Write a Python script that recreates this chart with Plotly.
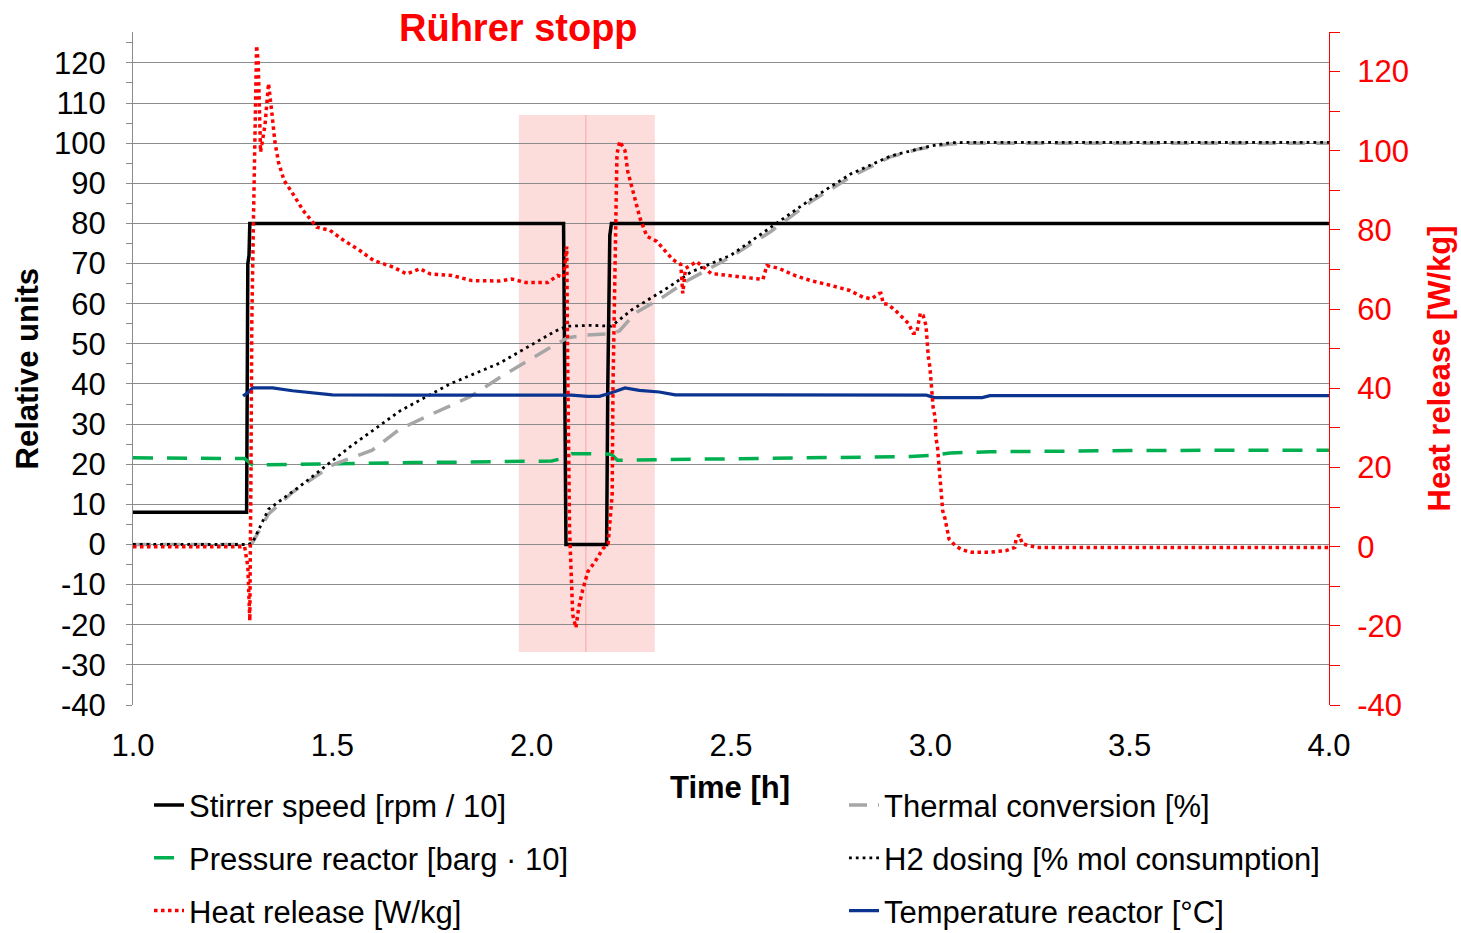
import plotly.graph_objects as go

# ---------------- data ----------------
stir_t = [1.0, 1.285, 1.288, 1.291, 1.293, 2.080, 2.083, 2.086, 2.188, 2.191, 2.196, 2.200, 4.0]
stir_v = [8, 8, 70, 72, 80, 80, 40, 0, 0, 40, 77, 80, 80]

pres_t = [1.0, 1.10, 1.20, 1.28, 1.30, 1.40, 1.50, 1.60, 1.70, 1.80, 1.90, 2.00, 2.05, 2.08, 2.10,
          2.15, 2.20, 2.215, 2.40, 2.60, 2.80, 2.95, 3.00, 3.05, 3.15, 3.30, 3.50, 3.80, 4.0]
pres_v = [21.6, 21.5, 21.6, 21.4, 19.8, 20.0, 20.2, 20.3, 20.4, 20.5, 20.6, 20.6, 20.8, 21.5, 22.6,
          22.6, 22.5, 21.0, 21.2, 21.5, 21.8, 21.9, 22.2, 22.8, 23.1, 23.3, 23.4, 23.5, 23.5]

temp_t = [1.276, 1.29, 1.30, 1.35, 1.40, 1.45, 1.50, 1.70, 2.00, 2.10, 2.14, 2.17, 2.20, 2.234,
          2.27, 2.32, 2.36, 2.60, 2.99, 3.01, 3.13, 3.15, 3.50, 4.0]
temp_v = [37.0, 38.0, 39.0, 39.0, 38.3, 37.8, 37.3, 37.2, 37.2, 37.2, 36.9, 36.9, 37.8, 39.0,
          38.4, 38.0, 37.3, 37.2, 37.2, 36.6, 36.6, 37.1, 37.1, 37.1]

therm_t = [1.0, 1.29, 1.30, 1.34, 1.40, 1.50, 1.60, 1.67, 1.75, 1.845, 1.92, 1.98, 2.04, 2.09, 2.14,
           2.20, 2.22, 2.26, 2.33, 2.39, 2.50, 2.60, 2.70, 2.80, 2.90, 2.97, 3.00, 3.05, 3.10, 4.0]
therm_v = [0, 0, 0.5, 7.6, 13.0, 19.8, 23.5, 28.8, 32.5, 36.8, 41.6, 45.2, 48.7, 51.5, 52.2,
           52.5, 53.2, 57.7, 61.7, 65.7, 71.7, 78.0, 85.4, 91.6, 96.6, 98.5, 99.1, 99.8, 100, 100]

h2_t = [1.0, 1.29, 1.30, 1.34, 1.42, 1.50, 1.544, 1.67, 1.795, 1.92, 2.00, 2.06, 2.09, 2.15, 2.20,
        2.25, 2.34, 2.40, 2.50, 2.60, 2.70, 2.80, 2.90, 3.00, 3.05, 3.10, 3.50, 4.0]
h2_v = [0, 0, 0.5, 8.8, 14.6, 21.0, 24.3, 33.3, 40.0, 45.2, 49.7, 53.2, 54.4, 54.6, 54.4,
        58.4, 63.9, 67.9, 72.1, 79.0, 86.0, 92.3, 96.8, 99.3, 100.1, 100.2, 100.2, 100.2]

heat_t = [1.0, 1.28, 1.288, 1.293, 1.296, 1.298, 1.302, 1.304, 1.306, 1.310, 1.314, 1.317, 1.319,
          1.320, 1.331, 1.340, 1.348, 1.356, 1.365, 1.379, 1.398, 1.427, 1.461, 1.494, 1.528, 1.569,
          1.603, 1.653, 1.686, 1.720, 1.745, 1.80, 1.85, 1.92, 1.95, 1.985, 2.04, 2.065, 2.08, 2.088,
          2.090, 2.092, 2.095, 2.100, 2.103, 2.111, 2.118, 2.128, 2.141, 2.159, 2.179, 2.192, 2.202,
          2.204, 2.209, 2.211, 2.214, 2.221, 2.234, 2.241, 2.254, 2.272, 2.289, 2.314, 2.334, 2.354,
          2.374, 2.379, 2.386, 2.414, 2.45, 2.50, 2.55, 2.58, 2.59, 2.62, 2.66, 2.70, 2.75, 2.798,
          2.831, 2.853, 2.870, 2.876, 2.882, 2.894, 2.912, 2.928, 2.945, 2.957, 2.966, 2.970, 2.975,
          2.982, 2.989, 2.991, 2.993, 2.995, 2.999, 3.001, 3.003, 3.007, 3.012, 3.014, 3.018, 3.020,
          3.022, 3.024, 3.026, 3.029, 3.031, 3.037, 3.041, 3.047, 3.062, 3.079, 3.104, 3.15, 3.19,
          3.212, 3.215, 3.223, 3.231, 3.25, 3.267, 3.5, 4.0]
heat_v = [0, 0, -5, -18.7, 20, 56.4, 81.6, 96.8, 111, 126.6, 122.4, 113.6, 105.2,
          99.7, 106.4, 117, 109.8, 102.2, 97.1, 92.5, 89.6, 84.9, 80.7, 79.9, 77.4, 74.8,
          72.3, 70.6, 68.9, 70.2, 68.9, 68.5, 67.2, 67.1, 67.6, 66.7, 66.7, 68.5, 68.0, 75.8,
          49.5, 22.5, 4.4, -9.1, -17.2, -20.5, -15.4, -10.9, -6.3, -3.8, -0.5, 0.8, 13.4,
          40.4, 67.6, 85.7, 99.2, 102.4, 100.1, 94.8, 89.7, 82.9, 78.4, 77.1, 74.8, 72.5,
          71.3, 64.0, 70.3, 72.0, 69.0, 68.5, 68.0, 67.5, 71.0, 70.3, 68.5, 67.2, 66.0, 64.7,
          63.0, 62.6, 63.9, 64.0, 61.4, 61.2, 59.7, 58.0, 56.4, 53.9, 53.9, 56.4, 59.0,
          58.4, 55.9, 53.3, 50.4, 47.9, 45.3, 42.8, 40.3, 35.2, 32.7, 27.6, 25.1, 22.6,
          19.6, 17.1, 14.6, 12.1, 9.1, 7.0, 4.5, 1.9, 0.3, -0.8, -1.4, -1.4, -1.0,
          -0.2, 1.9, 3.0, 0.7, 0.3, -0.2, -0.2, -0.2]

left_ticks = list(range(-40, 121, 10))
right_ticks = list(range(-40, 121, 20))
x_ticks = [1.0, 1.5, 2.0, 2.5, 3.0, 3.5, 4.0]

stop_start, stop_end, stop_mid = 1.968, 2.309, 2.136
stop_low, stop_high = -26.8, 107.0

FONT = "Liberation Sans, Arial"

fig = go.Figure()

fig.add_trace(go.Scatter(x=stir_t, y=stir_v, mode="lines", name="Stirrer speed [rpm / 10]",
                         line=dict(color="black", width=3.5), legend="legend", legendgroup="a"))
fig.add_trace(go.Scatter(x=pres_t, y=pres_v, mode="lines", name="Pressure reactor [barg · 10]",
                         line=dict(color="#00B050", width=3.5, dash="20px,14px"), legend="legend", legendgroup="b"))
fig.add_trace(go.Scatter(x=therm_t, y=therm_v, mode="lines", name="Thermal conversion [%]",
                         line=dict(color="#A6A6A6", width=3.5, dash="18px,11px"), legend="legend2", legendgroup="d"))
fig.add_trace(go.Scatter(x=h2_t, y=h2_v, mode="lines", name="H2 dosing [% mol consumption]",
                         line=dict(color="black", width=2.8, dash="2.8px,4px"), legend="legend2", legendgroup="e"))
fig.add_trace(go.Scatter(x=temp_t, y=temp_v, mode="lines", name="Temperature reactor [°C]",
                         line=dict(color="#0B3490", width=3.2), legend="legend2", legendgroup="f"))
fig.add_trace(go.Scatter(x=heat_t, y=heat_v, mode="lines", name="Heat release [W/kg]", yaxis="y2",
                         line=dict(color="#FF0000", width=3.5, dash="3.5px,3.5px"), legend="legend", legendgroup="c"))

fig.add_shape(type="rect", xref="x", yref="y", x0=stop_start, x1=stop_end, y0=stop_low, y1=stop_high,
              fillcolor="rgba(248,150,150,0.33)", line=dict(width=0), layer="below")
fig.add_shape(type="line", xref="x", yref="y", x0=stop_mid, x1=stop_mid, y0=stop_low, y1=stop_high,
              line=dict(color="rgba(240,130,130,0.6)", width=1), layer="below")

fig.add_annotation(text="<b>Rührer stopp</b>", xref="paper", yref="paper", x=0.322, y=1.006,
                   showarrow=False, font=dict(family=FONT, size=38, color="#FF0000"),
                   xanchor="center", yanchor="middle")
fig.add_annotation(text="<b>Relative units</b>", xref="paper", yref="paper", x=-0.0878, y=0.5,
                   showarrow=False, textangle=-90, font=dict(family=FONT, size=31, color="black"),
                   xanchor="center", yanchor="middle")
fig.add_annotation(text="<b>Heat release [W/kg]</b>", xref="paper", yref="paper", x=1.0928, y=0.5,
                   showarrow=False, textangle=-90, font=dict(family=FONT, size=31, color="#FF0000"),
                   xanchor="center", yanchor="middle")
fig.add_annotation(text="<b>Time [h]</b>", xref="paper", yref="paper", x=0.499, y=-0.123,
                   showarrow=False, font=dict(family=FONT, size=31, color="black"),
                   xanchor="center", yanchor="middle")

fig.update_layout(
    width=1461, height=933,
    margin=dict(l=133, r=132, t=32, b=228, autoexpand=False),
    paper_bgcolor="white", plot_bgcolor="white",
    font=dict(family=FONT, size=30, color="black"),
    xaxis=dict(range=[1.0, 4.0], tickvals=x_ticks, tickformat=".1f", showgrid=False,
               showline=False, zeroline=False, ticks="", ticklabelstandoff=19,
               tickfont=dict(size=31)),
    yaxis=dict(range=[-40, 127.7], tickvals=left_ticks, ticktext=[str(v) for v in left_ticks],
               showgrid=True, gridcolor="#8C8C8C",
               gridwidth=1, zeroline=False, showline=True, linecolor="#8C8C8C", linewidth=1,
               ticks="outside", ticklen=6, tickcolor="#8C8C8C", ticklabelstandoff=14,
               minor=dict(dtick=5, tick0=0, ticks="outside", ticklen=6, tickcolor="#8C8C8C", showgrid=False),
               tickfont=dict(size=31)),
    yaxis2=dict(range=[-40, 130], tickvals=right_ticks, ticktext=[str(v) for v in right_ticks],
                overlaying="y", side="right",
                showgrid=False, zeroline=False, showline=True, linecolor="#FF0000", linewidth=1,
                ticks="outside", ticklen=10, tickcolor="#FF0000", ticklabelstandoff=11,
                minor=dict(dtick=10, tick0=0, ticks="outside", ticklen=10, tickcolor="#FF0000"),
                tickfont=dict(size=31, color="#FF0000")),
    legend=dict(x=0.0134, y=-0.109, xanchor="left", yanchor="top", orientation="v",
                traceorder="grouped", tracegroupgap=9.5, font=dict(family=FONT, size=31),
                bgcolor="rgba(0,0,0,0)"),
    legend2=dict(x=0.5945, y=-0.109, xanchor="left", yanchor="top", orientation="v",
                 traceorder="grouped", tracegroupgap=9.5, font=dict(family=FONT, size=31),
                 bgcolor="rgba(0,0,0,0)"),
)

fig.write_html("out.html")
